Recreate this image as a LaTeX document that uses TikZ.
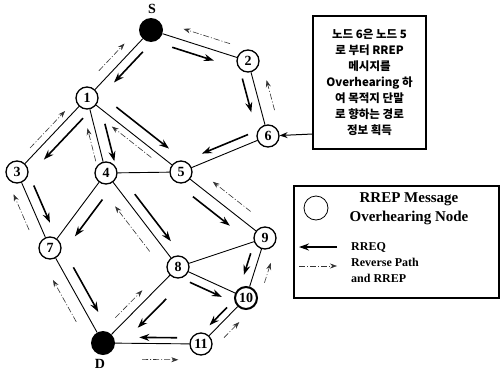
\documentclass[tikz,border=0pt]{standalone}
\usepackage{fontspec}
\setmainfont{Liberation Serif}
\newfontfamily\kr{Noto Sans CJK KR}
\usetikzlibrary{calc,arrows.meta}
\newcommand\pa[6]{\draw[#1] ($(#2)!#4!(#3)!#6!90:(#3)$) -- ($(#2)!#5!(#3)!#6!90:(#3)$);}
\begin{document}
\begin{tikzpicture}[x=1pt,y=-1pt,
  nd/.style={circle,draw,line width=1.3pt,minimum size=22pt,inner sep=0pt,fill=white,font=\bfseries\fontsize{14}{14}\selectfont},
  blk/.style={circle,fill=black,minimum size=24pt,inner sep=0pt},
  edge/.style={line width=0.9pt},
  rreq/.style={line width=1.6pt,-{Stealth[length=10pt,width=7pt]}},
  rrep/.style={line width=0.6pt,black!80,dash pattern=on 6pt off 2pt on 1pt off 2pt,-{Stealth[length=7pt,width=5pt]}},
  lbl/.style={font=\bfseries\fontsize{14}{14}\selectfont}
]
\useasboundingbox (0,0) rectangle (500,383);
% nodes
\node[blk] (S) at (151,30) {};
\node[lbl] (Slab) at (152,9) {S};
\node[nd] (n1) at (87,98) {1};
\node[nd] (n2) at (248,61) {2};
\node[nd] (n6) at (268,136) {6};
\node[nd] (n3) at (17,172) {3};
\node[nd] (n4) at (106,173) {4};
\node[nd] (n5) at (181,172) {5};
\node[nd] (n7) at (50,248) {7};
\node[nd] (n8) at (178,267) {8};
\node[nd] (n9) at (265,238) {9};
\node[nd,line width=2pt] (n10) at (246,298) {10};
\node[nd] (n11) at (201,344) {11};
\node[blk] (D) at (103,343) {};
\node[lbl] (Dlab) at (100,364) {D};
% edges
\foreach \a/\b in {S/n1,S/n2,n2/n6,n6/n5,n1/n3,n1/n4,n1/n5,n3/n7,n4/n5,n4/n7,n4/n8,n5/n9,n7/D,n8/n9,n8/n10,n8/D,n9/n10,n10/n11,n11/D}
  \draw[edge] (\a) -- (\b);
% parallel arrows
\pa{rreq}{S}{n1}{.23}{.68}{9pt}
\pa{rrep}{n1}{S}{.3}{.7}{10pt}
\pa{rreq}{S}{n2}{.25}{.68}{-10pt}
\pa{rrep}{n2}{S}{.22}{.7}{-11pt}
\pa{rreq}{n2}{n6}{.2}{.65}{-10pt}
\pa{rrep}{n6}{n2}{.3}{.7}{-13pt}
\pa{rreq}{n6}{n5}{.19}{.72}{-9pt}
\pa{rreq}{n1}{n3}{.17}{.73}{11pt}
\pa{rrep}{n3}{n1}{.26}{.76}{7pt}
\pa{rreq}{n1}{n4}{.38}{.88}{11pt}
\pa{rrep}{n4}{n1}{.18}{.62}{7pt}
\pa{rreq}{n1}{n5}{.24}{.8}{11pt}
\pa{rrep}{n5}{n1}{.27}{.69}{7pt}
\pa{rreq}{n3}{n7}{.23}{.72}{10pt}
\pa{rrep}{n7}{n3}{.3}{.77}{12pt}
\pa{rreq}{n4}{n7}{.25}{.74}{13pt}
\pa{rreq}{n4}{n8}{.29}{.79}{10pt}
\pa{rrep}{n8}{n4}{.25}{.73}{13pt}
\pa{rreq}{n5}{n9}{.23}{.67}{-12pt}
\pa{rrep}{n9}{n5}{.26}{.71}{-12pt}
\pa{rreq}{n7}{D}{.26}{.73}{11pt}
\pa{rrep}{D}{n7}{.29}{.73}{13pt}
\pa{rreq}{n8}{D}{.29}{.67}{14pt}
\pa{rrep}{D}{n8}{.25}{.61}{9pt}
\pa{rreq}{n8}{n10}{.23}{.7}{-9pt}
\pa{rreq}{n9}{n10}{.3}{.66}{-9pt}
\pa{rrep}{n10}{n9}{.32}{.65}{-13pt}
\pa{rreq}{n10}{n11}{.31}{.7}{-7pt}
\pa{rrep}{n11}{n10}{.32}{.66}{-12pt}
\pa{rreq}{n11}{D}{.245}{.63}{-6pt}
\pa{rrep}{D}{n11}{.4}{.77}{-16pt}
% note box
\node[draw,line width=1.1pt,minimum width=113pt,minimum height=133pt,inner sep=0pt,align=center,
  font=\kr\bfseries\fontsize{11.5}{16}\selectfont] (note) at (369.5,82.5)
  {노드 6은 노드 5\\로 부터 RREP\\메시지를\\Overhearing 하\\여 목적지 단말\\로 향하는 경로\\정보 획득};
\coordinate (nt) at (313,134);
\draw[line width=1pt,-{Stealth[length=8pt,width=6pt]}] (nt) -- (n6);
% legend
\node[draw,line width=1.1pt,minimum width=205pt,minimum height=112pt,inner sep=0pt] (leg) at (396.5,242) {};
\node[circle,draw,line width=0.8pt,minimum size=24pt,inner sep=0pt] (lc) at (316,208) {};
\node[font=\bfseries\fontsize{15}{19}\selectfont,align=center] (lt) at (409,209) {RREP Message\\Overhearing Node};
\coordinate (q1) at (337,247);
\coordinate (q2) at (299,247);
\draw[rreq] (q1) -- (q2);
\coordinate (r1) at (299,266);
\coordinate (r2) at (337,266);
\draw[rrep] (r1) -- (r2);
\node[anchor=west,font=\bfseries\fontsize{12}{12}\selectfont,inner sep=0pt] (lq) at (351,247) {RREQ};
\node[anchor=north west,font=\bfseries\fontsize{12}{16}\selectfont,inner sep=0pt,align=left] (lr) at (351,258) {Reverse Path\\and RREP};
\end{tikzpicture}
\end{document}
